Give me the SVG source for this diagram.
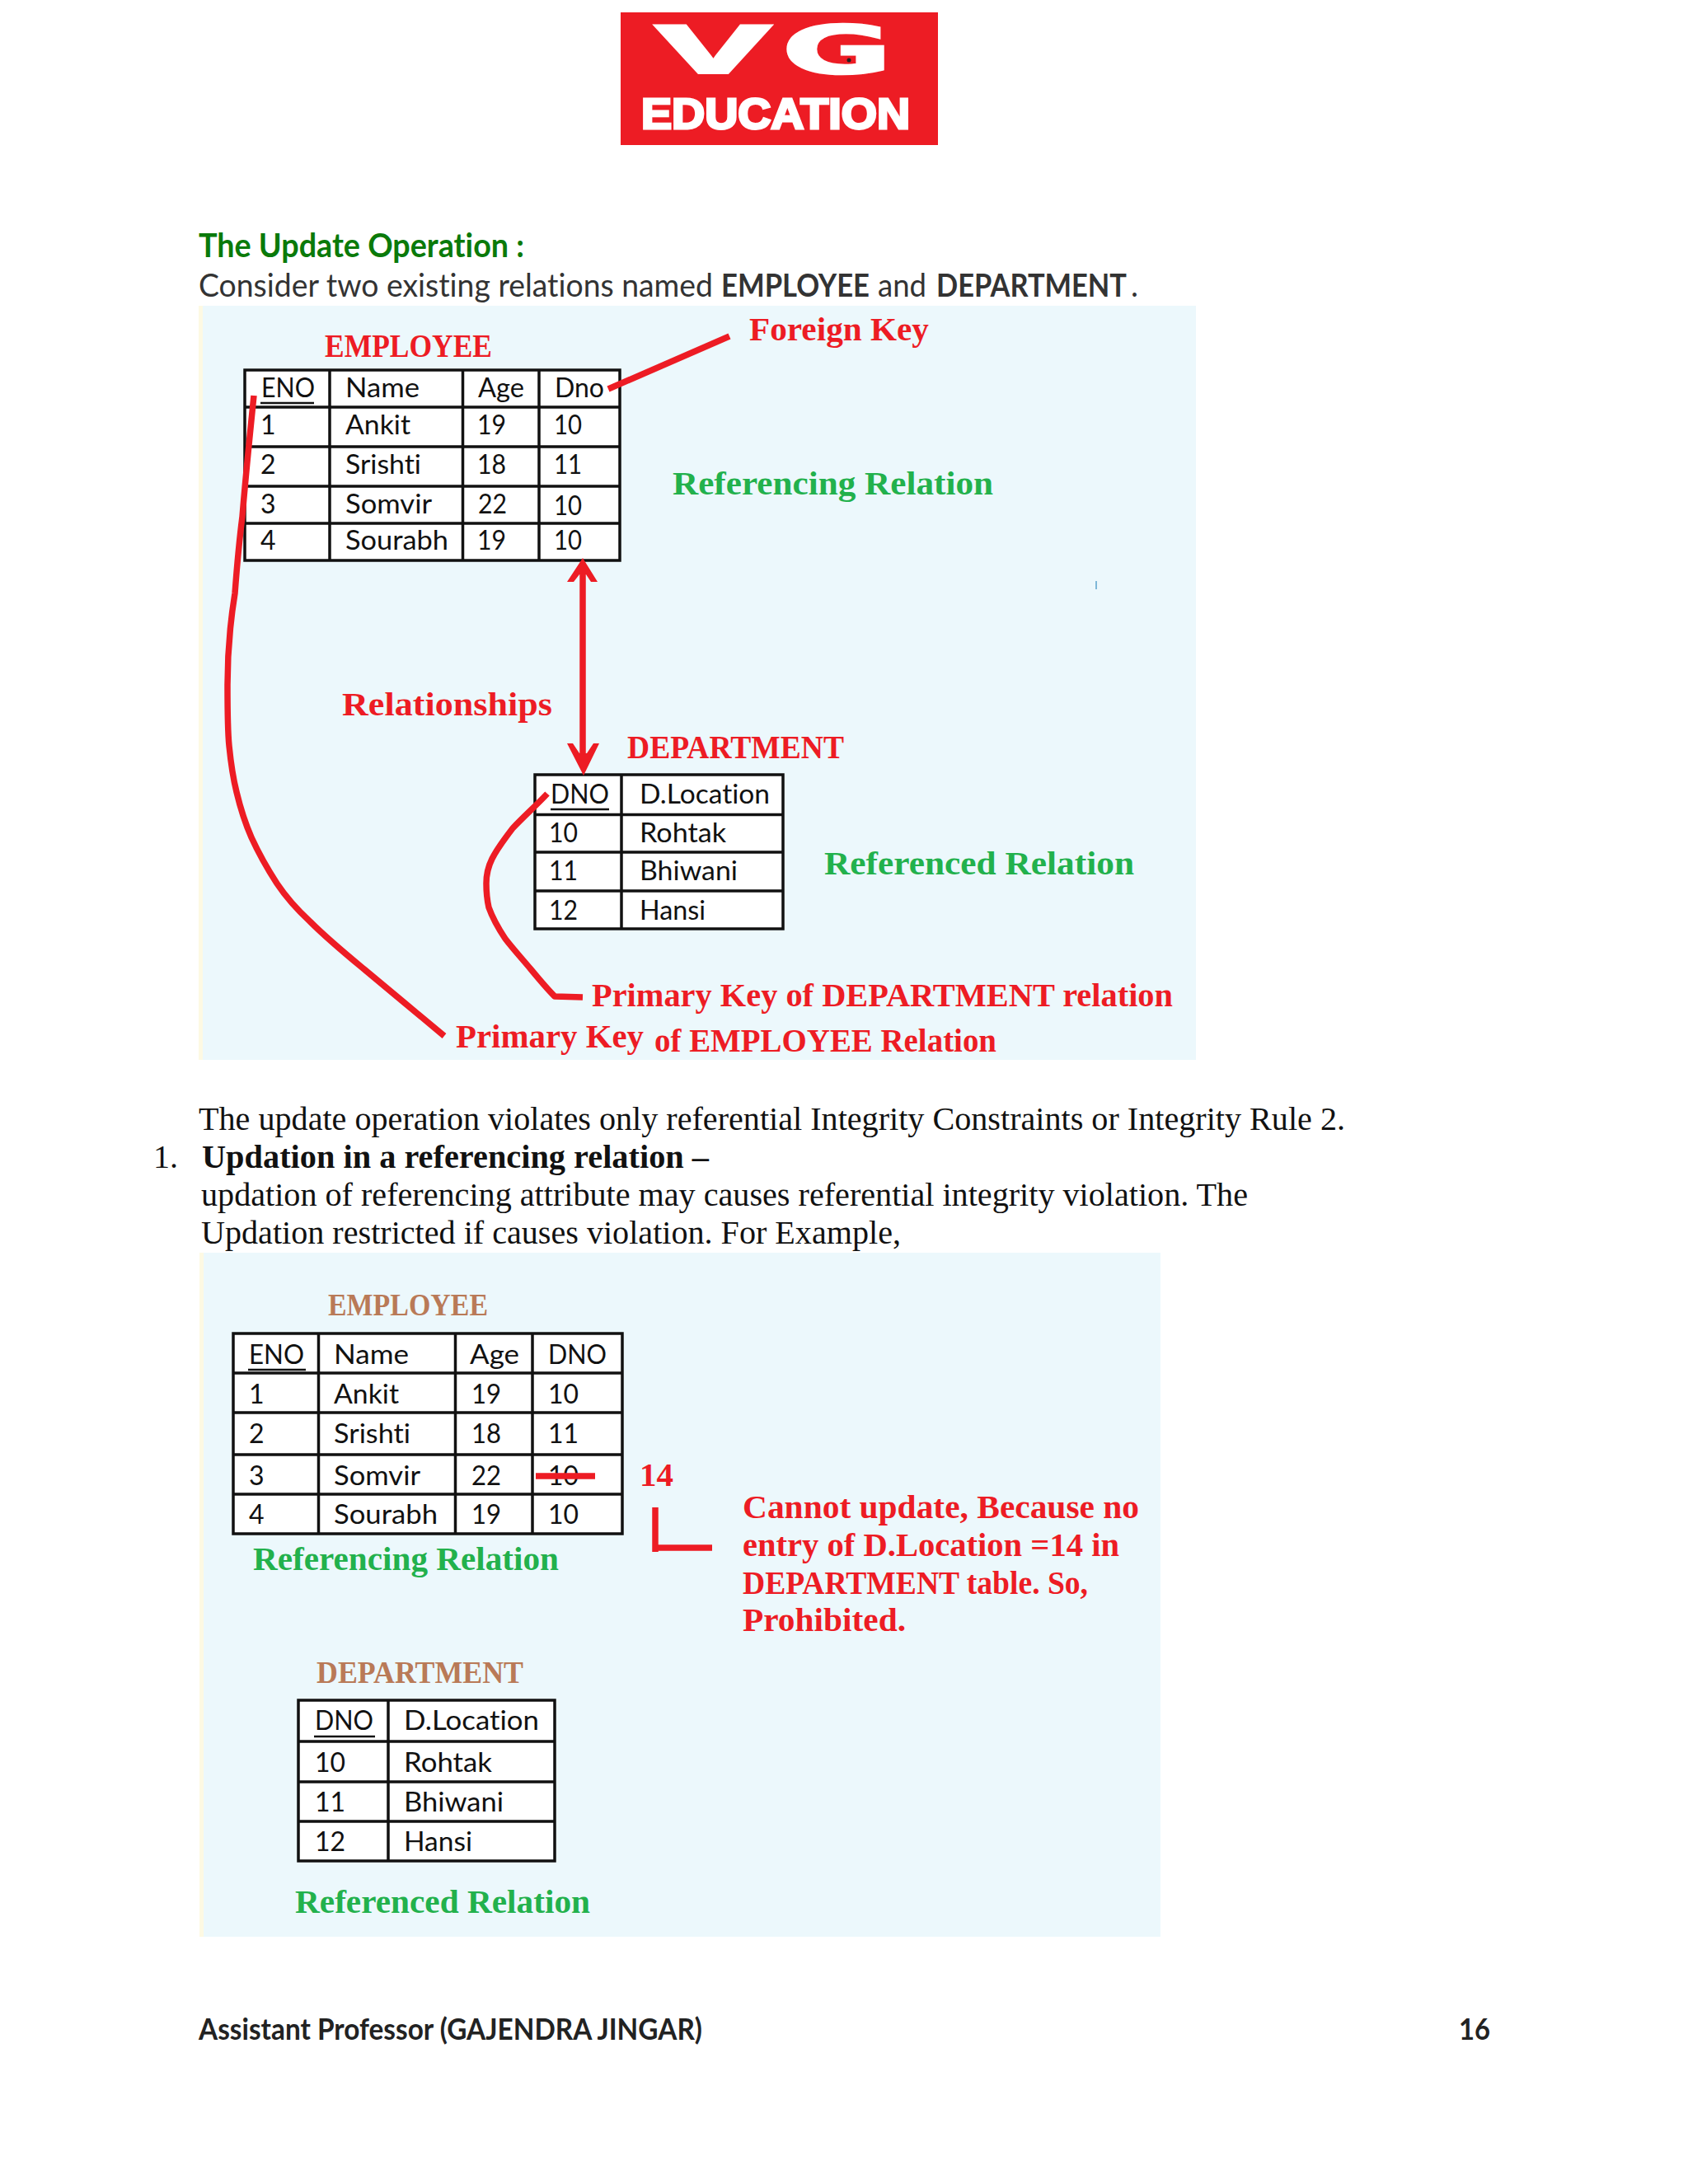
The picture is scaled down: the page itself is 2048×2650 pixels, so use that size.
<svg xmlns="http://www.w3.org/2000/svg" width="2048" height="2650" viewBox="0 0 2048 2650">
<style>
text{font-variant-ligatures:none}
.c{font-family:"Lato","Noto Sans",sans-serif;font-size:32px;fill:#111}
.b{font-family:"Lato","Noto Sans",sans-serif;font-size:38px;fill:#333}
.bb{font-family:"Lato","Noto Sans",sans-serif;font-size:38px;font-weight:700;fill:#333}
.h{font-family:"Lato","Noto Sans",sans-serif;font-size:40px;font-weight:700;fill:#0a7a0a}
.f{font-family:"Lato","Noto Sans",sans-serif;font-size:36px;font-weight:700;fill:#222}
.t{font-family:"Liberation Serif",serif;font-size:40px;fill:#111}
.tb{font-family:"Liberation Serif",serif;font-size:40px;font-weight:700;fill:#111}
.r{font-family:"Liberation Serif",serif;font-size:39px;font-weight:700;fill:#ed1c24}
.g{font-family:"Liberation Serif",serif;font-size:39px;font-weight:700;fill:#22b14c}
.br{font-family:"Liberation Serif",serif;font-size:37px;font-weight:700;fill:#b97a57}
.grid{fill:none;stroke:#111;stroke-width:3.5}
.cell{fill:#fff}
.ln{fill:none;stroke:#ed1c24;stroke-width:7.5;stroke-linecap:butt;stroke-linejoin:round}
.panel{fill:#ecf8fc}
.edge{fill:#fdf9e3}
.u{stroke:#111;stroke-width:2.5}
.ah{fill:#ed1c24}
</style>
<rect width="2048" height="2650" fill="#fff"/>

<g id="logo">
<rect x="753" y="15" width="385" height="161" fill="#ed1c24"/>
<text transform="translate(797 88) scale(3.3 1.33)" x="0" y="0" font-family="Liberation Sans" font-weight="700" font-size="62" fill="#fff" stroke="#fff" stroke-width="3">V</text>
<text transform="translate(949 89) scale(2.7 1.33)" x="0" y="0" font-family="DejaVu Sans" font-weight="700" font-size="60" fill="#fff" stroke="#fff" stroke-width="2">G</text>
<circle cx="1030" cy="73" r="2.500" fill="#222"/>
<text x="778" y="156" textLength="326" lengthAdjust="spacingAndGlyphs" font-family="Liberation Sans" font-weight="700" font-size="52" fill="#fff" stroke="#fff" stroke-width="3">EDUCATION</text>
</g>

<g id="heading">
<text class="h" x="241" y="312" textLength="395" lengthAdjust="spacingAndGlyphs">The Update Operation :</text>
<text class="b" x="241" y="360" textLength="624" lengthAdjust="spacingAndGlyphs">Consider two existing relations named</text>
<text class="bb" x="875" y="360" textLength="180" lengthAdjust="spacingAndGlyphs">EMPLOYEE</text>
<text class="b" x="1065" y="360" textLength="59" lengthAdjust="spacingAndGlyphs">and</text>
<text class="bb" x="1136" y="360" textLength="231" lengthAdjust="spacingAndGlyphs">DEPARTMENT</text>
<text class="b" x="1372" y="360">.</text>
</g>

<g id="panel1">
<rect class="edge" x="241" y="371" width="1210" height="915"/>
<rect class="panel" x="246" y="371" width="1205" height="915"/>
<rect x="1329" y="705" width="2" height="10" fill="#7fb8d8"/>
</g>

<g id="employee-table-1">
<rect class="cell" x="297" y="449" width="455" height="231"/>
<path class="grid" d="M297 449H752V680H297ZM400 449V680M561.500 449V680M654 449V680M297 494H752M297 542H752M297 590H752M297 635H752"/>
<text class="r" x="394" y="433" textLength="203" lengthAdjust="spacingAndGlyphs">EMPLOYEE</text>
<text class="c" x="317" y="482" textLength="65" lengthAdjust="spacingAndGlyphs">ENO</text><line class="u" x1="316" y1="489" x2="381" y2="489"/>
<text class="c" x="419" y="482" textLength="90" lengthAdjust="spacingAndGlyphs">Name</text>
<text class="c" x="580" y="482" textLength="56" lengthAdjust="spacingAndGlyphs">Age</text>
<text class="c" x="673" y="482" textLength="60" lengthAdjust="spacingAndGlyphs">Dno</text>
<text class="c" x="316" y="527">1</text><text class="c" x="419" y="527" textLength="79" lengthAdjust="spacingAndGlyphs">Ankit</text><text class="c" x="579" y="527" textLength="35" lengthAdjust="spacingAndGlyphs">19</text><text class="c" x="672" y="527" textLength="34" lengthAdjust="spacingAndGlyphs">10</text>
<text class="c" x="316" y="575">2</text><text class="c" x="419" y="575" textLength="92" lengthAdjust="spacingAndGlyphs">Srishti</text><text class="c" x="579" y="575" textLength="35" lengthAdjust="spacingAndGlyphs">18</text><text class="c" x="672" y="575" textLength="34" lengthAdjust="spacingAndGlyphs">11</text>
<text class="c" x="316" y="623">3</text><text class="c" x="419" y="623" textLength="105" lengthAdjust="spacingAndGlyphs">Somvir</text><text class="c" x="580" y="623" textLength="35" lengthAdjust="spacingAndGlyphs">22</text><text class="c" x="672" y="625" textLength="34" lengthAdjust="spacingAndGlyphs">10</text>
<text class="c" x="316" y="667">4</text><text class="c" x="419" y="667" textLength="125" lengthAdjust="spacingAndGlyphs">Sourabh</text><text class="c" x="579" y="667" textLength="35" lengthAdjust="spacingAndGlyphs">19</text><text class="c" x="672" y="667" textLength="34" lengthAdjust="spacingAndGlyphs">10</text>
</g>

<g id="department-table-1">
<rect class="cell" x="649" y="940" width="301" height="187"/>
<path class="grid" d="M649 940H950V1127H649ZM754 940V1127M649 988.500H950M649 1034H950M649 1081H950"/>
<text class="r" x="761" y="920" textLength="263" lengthAdjust="spacingAndGlyphs">DEPARTMENT</text>
<text class="c" x="668" y="975" textLength="71" lengthAdjust="spacingAndGlyphs">DNO</text><line class="u" x1="668" y1="982" x2="739" y2="982"/>
<text class="c" x="776" y="975" textLength="158" lengthAdjust="spacingAndGlyphs">D.Location</text>
<text class="c" x="666" y="1022" textLength="35" lengthAdjust="spacingAndGlyphs">10</text><text class="c" x="776" y="1022" textLength="105" lengthAdjust="spacingAndGlyphs">Rohtak</text>
<text class="c" x="666" y="1068" textLength="35" lengthAdjust="spacingAndGlyphs">11</text><text class="c" x="776" y="1068" textLength="119" lengthAdjust="spacingAndGlyphs">Bhiwani</text>
<text class="c" x="666" y="1116" textLength="35" lengthAdjust="spacingAndGlyphs">12</text><text class="c" x="776" y="1116" textLength="80" lengthAdjust="spacingAndGlyphs">Hansi</text>
</g>

<g id="labels-1">
<text class="r" x="909" y="413" textLength="218" lengthAdjust="spacingAndGlyphs">Foreign Key</text>
<text class="g" x="816" y="600" textLength="389" lengthAdjust="spacingAndGlyphs">Referencing Relation</text>
<text class="r" x="415" y="868" textLength="255" lengthAdjust="spacingAndGlyphs">Relationships</text>
<text class="g" x="1000" y="1061" textLength="376" lengthAdjust="spacingAndGlyphs">Referenced Relation</text>
<text class="r" x="718" y="1221" textLength="705" lengthAdjust="spacingAndGlyphs">Primary Key of DEPARTMENT relation</text>
<text class="r" x="553" y="1271" textLength="228" lengthAdjust="spacingAndGlyphs">Primary Key</text>
<text class="r" x="794" y="1276" textLength="415" lengthAdjust="spacingAndGlyphs">of EMPLOYEE Relation</text>
</g>

<g id="body-text">
<text class="t" x="241" y="1371" textLength="1391" lengthAdjust="spacingAndGlyphs">The update operation violates only referential Integrity Constraints or Integrity Rule 2.</text>
<text class="t" x="186" y="1417">1.</text>
<text class="tb" x="245" y="1417" textLength="615" lengthAdjust="spacingAndGlyphs">Updation in a referencing relation –</text>
<text class="t" x="244" y="1463" textLength="1270" lengthAdjust="spacingAndGlyphs">updation of referencing attribute may causes referential integrity violation. The</text>
<text class="t" x="244" y="1509" textLength="849" lengthAdjust="spacingAndGlyphs">Updation restricted if causes violation. For Example,</text>
</g>

<g id="panel2">
<rect class="edge" x="242" y="1520" width="1166" height="830"/>
<rect class="panel" x="247" y="1520" width="1161" height="830"/>
</g>

<g id="employee-table-2">
<rect class="cell" x="283" y="1618" width="472" height="243"/>
<path class="grid" d="M283 1618H755V1861H283ZM386.500 1618V1861M552.500 1618V1861M646 1618V1861M283 1666H755M283 1714H755M283 1765H755M283 1813H755"/>
<text class="br" x="398" y="1596" textLength="194" lengthAdjust="spacingAndGlyphs">EMPLOYEE</text>
<text class="c" x="302" y="1655" textLength="67" lengthAdjust="spacingAndGlyphs">ENO</text><line class="u" x1="301" y1="1662" x2="371" y2="1662"/>
<text class="c" x="405" y="1655" textLength="91" lengthAdjust="spacingAndGlyphs">Name</text>
<text class="c" x="570" y="1655" textLength="60" lengthAdjust="spacingAndGlyphs">Age</text>
<text class="c" x="665" y="1655" textLength="71" lengthAdjust="spacingAndGlyphs">DNO</text>
<text class="c" x="302" y="1703">1</text><text class="c" x="405" y="1703" textLength="79" lengthAdjust="spacingAndGlyphs">Ankit</text><text class="c" x="572" y="1703" textLength="36" lengthAdjust="spacingAndGlyphs">19</text><text class="c" x="665" y="1703" textLength="37" lengthAdjust="spacingAndGlyphs">10</text>
<text class="c" x="302" y="1751">2</text><text class="c" x="405" y="1751" textLength="93" lengthAdjust="spacingAndGlyphs">Srishti</text><text class="c" x="572" y="1751" textLength="36" lengthAdjust="spacingAndGlyphs">18</text><text class="c" x="665" y="1751" textLength="37" lengthAdjust="spacingAndGlyphs">11</text>
<text class="c" x="302" y="1802">3</text><text class="c" x="405" y="1802" textLength="105" lengthAdjust="spacingAndGlyphs">Somvir</text><text class="c" x="572" y="1802" textLength="36" lengthAdjust="spacingAndGlyphs">22</text><text class="c" x="665" y="1802" textLength="37" lengthAdjust="spacingAndGlyphs">10</text>
<text class="c" x="302" y="1849">4</text><text class="c" x="405" y="1849" textLength="126" lengthAdjust="spacingAndGlyphs">Sourabh</text><text class="c" x="572" y="1849" textLength="36" lengthAdjust="spacingAndGlyphs">19</text><text class="c" x="665" y="1849" textLength="37" lengthAdjust="spacingAndGlyphs">10</text>
</g>

<g id="department-table-2">
<rect class="cell" x="362" y="2063" width="311" height="195"/>
<path class="grid" d="M362 2063H673V2258H362ZM471 2063V2258M362 2113H673M362 2162H673M362 2210H673"/>
<text class="br" x="384" y="2042" textLength="251" lengthAdjust="spacingAndGlyphs">DEPARTMENT</text>
<text class="c" x="382" y="2099" textLength="71" lengthAdjust="spacingAndGlyphs">DNO</text><line class="u" x1="381" y1="2107" x2="455" y2="2107"/>
<text class="c" x="490" y="2099" textLength="164" lengthAdjust="spacingAndGlyphs">D.Location</text>
<text class="c" x="382" y="2150" textLength="37" lengthAdjust="spacingAndGlyphs">10</text><text class="c" x="490" y="2150" textLength="107" lengthAdjust="spacingAndGlyphs">Rohtak</text>
<text class="c" x="382" y="2198" textLength="37" lengthAdjust="spacingAndGlyphs">11</text><text class="c" x="490" y="2198" textLength="121" lengthAdjust="spacingAndGlyphs">Bhiwani</text>
<text class="c" x="382" y="2246" textLength="37" lengthAdjust="spacingAndGlyphs">12</text><text class="c" x="490" y="2246" textLength="83" lengthAdjust="spacingAndGlyphs">Hansi</text>
</g>

<g id="labels-2">
<text class="g" x="307" y="1905" textLength="371" lengthAdjust="spacingAndGlyphs">Referencing Relation</text>
<text class="g" x="358" y="2321" textLength="358" lengthAdjust="spacingAndGlyphs">Referenced Relation</text>
<text class="r" x="776" y="1803" textLength="41" lengthAdjust="spacingAndGlyphs">14</text>
<text class="r" x="901" y="1842" textLength="481" lengthAdjust="spacingAndGlyphs">Cannot update, Because no</text>
<text class="r" x="901" y="1888" textLength="457" lengthAdjust="spacingAndGlyphs">entry of D.Location =14 in</text>
<text class="r" x="901" y="1934" textLength="419" lengthAdjust="spacingAndGlyphs">DEPARTMENT table. So,</text>
<text class="r" x="901" y="1979" textLength="198" lengthAdjust="spacingAndGlyphs">Prohibited.</text>
</g>

<g id="connectors">
<path class="ln" d="M885 408L738 472"/>
<path class="ln" d="M707 695V920"/>
<path class="ah" d="M707 677L725 706L717 706L711 697L703 697L696 706L688 706Z"/>
<path class="ah" d="M708 941L688 902L695 902L703 914L712 914L720 902L727 902Z"/>
<path class="ln" d="M308 480C304 520 298 577 294 627C291 650 288 680 285 720C279 757 276 790 276 831C276 860 276 885 278 905C280 925 283 945 287 961C292 982 298 1000 305 1016C315 1038 325 1055 336 1072C348 1090 362 1105 376 1118C398 1140 420 1158 443 1177C475 1204 507 1230 539 1257"/>
<path class="ln" d="M664 963C650 978 636 990 622 1005C612 1018 603 1030 597 1042C592 1052 590 1062 590 1072C590 1083 591 1092 593 1101C598 1115 605 1127 613 1139C623 1152 634 1164 644 1176C654 1188 663 1199 673 1209L707 1210"/>
<path class="ln" d="M650 1791H722"/>
<path class="ln" d="M795 1829V1883M795 1878H864"/>
</g>

<g id="footer">
<text class="f" x="241" y="2475" textLength="611" lengthAdjust="spacingAndGlyphs">Assistant Professor (GAJENDRA JINGAR)</text>
<text class="f" x="1770" y="2475" textLength="38" lengthAdjust="spacingAndGlyphs">16</text>
</g>
</svg>
